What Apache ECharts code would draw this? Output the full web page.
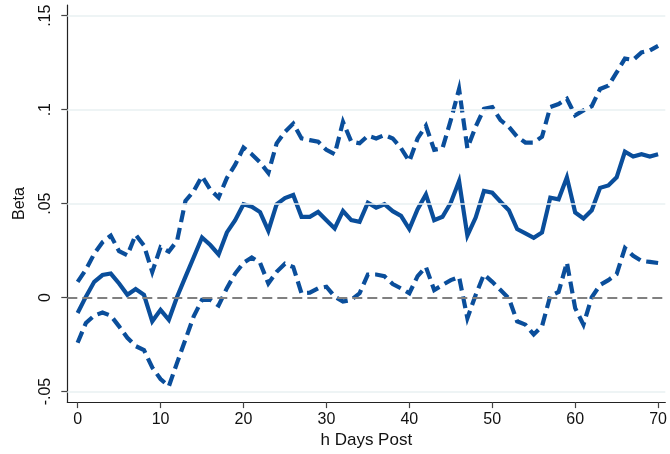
<!DOCTYPE html>
<html>
<head>
<meta charset="utf-8">
<script src="https://cdn.jsdelivr.net/npm/echarts@6/dist/echarts.min.js"></script>
<style>
  html, body { margin: 0; padding: 0; background: #fff; }
  #chart { width: 670px; height: 454px; }
</style>
</head>
<body>
<div id="chart"></div>
<script>
// Horizon h = 0..70 days
const horizons = Array.from({ length: 71 }, (_, i) => i);

// Point estimate of beta at each horizon
const betaEstimate = [
  -0.0082, 0.0005, 0.0084, 0.0120, 0.0128, 0.0075, 0.0015, 0.0046, 0.0015, -0.0126,
  -0.0065, -0.0118, 0.0005, 0.0110, 0.0215, 0.0320, 0.0280, 0.0230, 0.0347, 0.0412,
  0.0497, 0.0484, 0.0455, 0.0356, 0.0497, 0.0530, 0.0546, 0.0430, 0.0430, 0.0456,
  0.0412, 0.0368, 0.0461, 0.0412, 0.0403, 0.0505, 0.0479, 0.0497, 0.0460, 0.0435,
  0.0365, 0.0470, 0.0549, 0.0412, 0.0430, 0.0505, 0.0620, 0.0330, 0.0426, 0.0567,
  0.0558, 0.0510, 0.0465, 0.0365, 0.0342, 0.0318, 0.0347, 0.0532, 0.0523, 0.0640,
  0.0453, 0.0421, 0.0465, 0.0584, 0.0597, 0.0640, 0.0777, 0.0751, 0.0763, 0.0751,
  0.0763
];

// Upper confidence bound
const upperBound = [
  0.0084, 0.0149, 0.0233, 0.0295, 0.0330, 0.0247, 0.0225, 0.0335, 0.0277, 0.0137,
  0.0268, 0.0245, 0.0303, 0.0514, 0.0567, 0.0646, 0.0575, 0.0532, 0.0637, 0.0707,
  0.0798, 0.0763, 0.0720, 0.0663, 0.0821, 0.0882, 0.0926, 0.0847, 0.0838, 0.0830,
  0.0786, 0.0763, 0.0935, 0.0830, 0.0821, 0.0861, 0.0847, 0.0865, 0.0847, 0.0795,
  0.0725, 0.0847, 0.0914, 0.0786, 0.0795, 0.0944, 0.1110, 0.0795, 0.0909, 0.1005,
  0.1014, 0.0944, 0.0909, 0.0856, 0.0825, 0.0825, 0.0856, 0.1014, 0.1030, 0.1058,
  0.0970, 0.0996, 0.1019, 0.1110, 0.1128, 0.1198, 0.1272, 0.1265, 0.1305, 0.1315,
  0.1339
];

// Lower confidence bound
const lowerBound = [
  -0.0240, -0.0135, -0.0096, -0.0079, -0.0096, -0.0153, -0.0214, -0.0258, -0.0279, -0.0372,
  -0.0433, -0.0472, -0.0346, -0.0223, -0.0100, -0.0012, -0.0012, -0.0042, 0.0050, 0.0128,
  0.0185, 0.0214, 0.0185, 0.0075, 0.0137, 0.0180, 0.0163, 0.0023, 0.0026, 0.0049,
  0.0058, 0.0005, -0.0021, -0.0012, 0.0023, 0.0123, 0.0123, 0.0114, 0.0072, 0.0049,
  0.0023, 0.0114, 0.0163, 0.0040, 0.0067, 0.0093, 0.0110, -0.0109, 0.0014, 0.0123,
  0.0084, 0.0040, -0.0004, -0.0126, -0.0144, -0.0196, -0.0153, 0.0010, 0.0030, 0.0187,
  -0.0056, -0.0144, 0.0002, 0.0067, 0.0093, 0.0125, 0.0264, 0.0222, 0.0195, 0.0190,
  0.0184
];

// Axis ticks and their printed labels
const xTicks = [0, 10, 20, 30, 40, 50, 60, 70];
const yTicks = [-0.05, 0, 0.05, 0.1, 0.15];
const yTickLabels = ['-.05', '0', '.05', '.1', '.15'];

const lineColor = '#0a4e9b';
const fontFamily = '"Liberation Sans", Arial, Helvetica, sans-serif';

const pairs = (ys) => horizons.map((h, i) => [h, ys[i]]);

const chart = echarts.init(document.getElementById('chart'), null, { renderer: 'canvas' });

chart.setOption({
  animation: false,
  backgroundColor: '#ffffff',
  grid: { left: 67.3, right: 0, top: 5, bottom: 47.3, containLabel: false },
  xAxis: {
    type: 'value',
    min: -1.245,
    max: 70.87,
    name: 'h Days Post',
    nameLocation: 'middle',
    nameGap: 25,
    nameTextStyle: { fontFamily, fontSize: 17, color: '#111' },
    axisLine: { show: true, onZero: false, lineStyle: { color: '#222', width: 1.2 } },
    axisTick: { show: true, length: 6, customValues: xTicks, lineStyle: { color: '#444', width: 1.2 } },
    axisLabel: {
      customValues: xTicks,
      margin: 9,
      fontFamily, fontSize: 16, color: '#111'
    },
    splitLine: { show: false }
  },
  yAxis: {
    type: 'value',
    min: -0.0556,
    max: 0.1557,
    name: 'Beta',
    nameLocation: 'middle',
    nameGap: 40,
    nameRotate: 90,
    nameTextStyle: { fontFamily, fontSize: 16, color: '#111' },
    axisLine: { show: true, onZero: false, lineStyle: { color: '#222', width: 1.2 } },
    axisTick: { show: true, length: 6, customValues: yTicks, lineStyle: { color: '#444', width: 1.2 } },
    axisLabel: {
      customValues: yTicks,
      rotate: 90,
      margin: 14,
      fontFamily, fontSize: 16, color: '#111',
      formatter: (v) => {
        const i = yTicks.findIndex((t) => Math.abs(t - v) < 1e-9);
        return i >= 0 ? yTickLabels[i] : '';
      }
    },
    splitLine: { show: false }
  },
  series: [
    {
      // light horizontal gridlines at each labelled y value
      type: 'line',
      data: [],
      z: 1,
      silent: true,
      markLine: {
        silent: true,
        symbol: 'none',
        label: { show: false },
        lineStyle: { color: '#e9f0f2', width: 1.6, type: 'solid' },
        data: yTicks.filter((t) => t !== 0).map((t) => ({ yAxis: t }))
      }
    },
    {
      // reference line at zero
      type: 'line',
      data: [],
      z: 2,
      silent: true,
      markLine: {
        silent: true,
        symbol: 'none',
        label: { show: false },
        lineStyle: { color: '#808080', width: 2, type: [10, 5] },
        data: [{ yAxis: 0 }]
      }
    },
    {
      name: 'Upper',
      type: 'line',
      data: pairs(upperBound),
      z: 3,
      showSymbol: false,
      symbol: 'none',
      lineStyle: { color: lineColor, width: 4.2, type: [12, 6], cap: 'butt', join: 'miter' }
    },
    {
      name: 'Lower',
      type: 'line',
      data: pairs(lowerBound),
      z: 3,
      showSymbol: false,
      symbol: 'none',
      lineStyle: { color: lineColor, width: 4.2, type: [12, 6], cap: 'butt', join: 'miter' }
    },
    {
      name: 'Beta',
      type: 'line',
      data: pairs(betaEstimate),
      z: 4,
      showSymbol: false,
      symbol: 'none',
      lineStyle: { color: lineColor, width: 4.2, type: 'solid', join: 'miter' }
    }
  ]
});
</script>
</body>
</html>
